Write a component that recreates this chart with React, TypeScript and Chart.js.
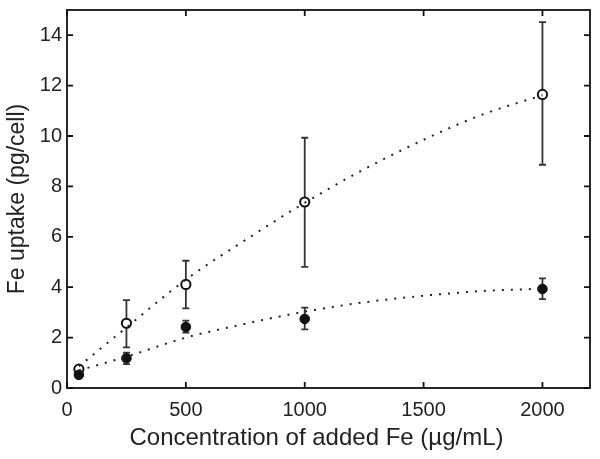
import React, { useEffect, useRef } from "react";
import { Chart, registerables } from "chart.js";

Chart.register(...registerables);

const concentrations = [50, 250, 500, 1000, 2000];
const openUptake = [0.75, 2.57, 4.11, 7.38, 11.65];
const openLow = [0.75, 1.61, 3.16, 4.81, 8.86];
const openHigh = [0.75, 3.49, 5.05, 9.93, 14.52];
const filledUptake = [0.52, 1.18, 2.42, 2.74, 3.93];
const filledLow = [0.52, 0.95, 2.2, 2.33, 3.53];
const filledHigh = [0.52, 1.4, 2.67, 3.19, 4.35];

const fitX = [50, 250, 500, 750, 1000, 1250, 1500, 1750, 2000];
const openFit = [0.86, 2.4, 4.3, 5.87, 7.35, 8.68, 9.85, 10.86, 11.62];
const filledFit = [0.7, 1.24, 2.0, 2.55, 3.03, 3.4, 3.66, 3.85, 3.94];

const xTicks = [0, 500, 1000, 1500, 2000];
const yTicks = [0, 2, 4, 6, 8, 10, 12, 14];

const xTitle = "Concentration of added Fe (µg/mL)";
const yTitle = "Fe uptake (pg/cell)";

const FONT = "'Liberation Sans', Arial, Helvetica, sans-serif";
const TEXT = "#222";

const errorBarPlugin = {
  id: "errorBars",
  beforeDatasetsDraw(chart: any) {
    const ctx = chart.ctx;
    const xs = chart.scales.x;
    const ys = chart.scales.y;
    const groups = [
      { vals: openUptake, lo: openLow, hi: openHigh },
      { vals: filledUptake, lo: filledLow, hi: filledHigh },
    ];
    ctx.save();
    ctx.strokeStyle = "#333";
    ctx.lineWidth = 1.8;
    for (const g of groups) {
      concentrations.forEach((c, i) => {
        if (g.hi[i] === g.lo[i]) return;
        const px = xs.getPixelForValue(c);
        const pLo = ys.getPixelForValue(g.lo[i]);
        const pHi = ys.getPixelForValue(g.hi[i]);
        ctx.beginPath();
        ctx.moveTo(px, pLo);
        ctx.lineTo(px, pHi);
        ctx.moveTo(px - 3.5, pLo);
        ctx.lineTo(px + 3.5, pLo);
        ctx.moveTo(px - 3.5, pHi);
        ctx.lineTo(px + 3.5, pHi);
        ctx.stroke();
      });
    }
    ctx.restore();
  },
};

const frameTicksPlugin = {
  id: "frameTicks",
  afterDraw(chart: any) {
    const ctx = chart.ctx;
    const { left, right, top, bottom } = chart.chartArea;
    const xs = chart.scales.x;
    const ys = chart.scales.y;
    const tl = 6;
    ctx.save();
    ctx.strokeStyle = "#111";
    ctx.lineWidth = 1.8;
    ctx.strokeRect(left, top, right - left, bottom - top);
    ctx.beginPath();
    xTicks.forEach((v) => {
      const px = xs.getPixelForValue(v);
      ctx.moveTo(px, bottom);
      ctx.lineTo(px, bottom - tl);
      ctx.moveTo(px, top);
      ctx.lineTo(px, top + tl);
    });
    yTicks.forEach((v) => {
      const py = ys.getPixelForValue(v);
      ctx.moveTo(left, py);
      ctx.lineTo(left + tl, py);
      ctx.moveTo(right, py);
      ctx.lineTo(right - tl, py);
    });
    ctx.stroke();
    // x axis title (slightly left of centre, as in the source figure)
    ctx.fillStyle = TEXT;
    ctx.font = `24px ${FONT}`;
    ctx.textAlign = "center";
    ctx.textBaseline = "alphabetic";
    ctx.fillText(xTitle, (left + right) / 2 - 12, bottom + 57);
    ctx.restore();
  },
};

export default function App() {
  const ref = useRef<HTMLCanvasElement | null>(null);

  useEffect(() => {
    if (!ref.current) return;
    const chart = new Chart(ref.current, {
      type: "scatter",
      data: {
        datasets: [
          {
            label: "fit open",
            data: fitX.map((x, i) => ({ x, y: openFit[i] })),
            showLine: true,
            borderColor: "#222",
            borderWidth: 2,
            borderDash: [2, 7],
            pointRadius: 0,
            cubicInterpolationMode: "monotone",
            fill: false,
          },
          {
            label: "fit filled",
            data: fitX.map((x, i) => ({ x, y: filledFit[i] })),
            showLine: true,
            borderColor: "#222",
            borderWidth: 2,
            borderDash: [2, 7],
            pointRadius: 0,
            cubicInterpolationMode: "monotone",
            fill: false,
          },
          {
            label: "filled",
            data: concentrations.map((x, i) => ({ x, y: filledUptake[i] })),
            pointRadius: 4.8,
            pointBackgroundColor: "#111",
            pointBorderColor: "#111",
            pointBorderWidth: 1,
          },
          {
            label: "open",
            data: concentrations.map((x, i) => ({ x, y: openUptake[i] })),
            pointRadius: 4.6,
            pointBackgroundColor: "#fff",
            pointBorderColor: "#111",
            pointBorderWidth: 2,
          },
        ],
      },
      options: {
        animation: false,
        responsive: false,
        maintainAspectRatio: false,
        layout: { padding: { top: 10, right: 10, left: 0, bottom: 0 } },
        plugins: {
          legend: { display: false },
          tooltip: { enabled: false },
        },
        scales: {
          x: {
            type: "linear",
            min: 0,
            max: 2200,
            afterFit: (s: any) => {
              s.height = 71;
              s.paddingLeft = 0;
              s.paddingRight = 0;
            },
            afterBuildTicks: (s: any) => {
              s.ticks = xTicks.map((v) => ({ value: v }));
            },
            grid: { display: false, drawTicks: false },
            border: { display: false },
            ticks: {
              padding: 10,
              color: TEXT,
              font: { family: FONT, size: 20 },
              maxRotation: 0,
              callback: (v: any) => String(v),
            },
            title: { display: false },
          },
          y: {
            type: "linear",
            min: 0,
            max: 15,
            afterFit: (s: any) => {
              s.width = 67;
              s.paddingTop = 0;
              s.paddingBottom = 0;
            },
            afterBuildTicks: (s: any) => {
              s.ticks = yTicks.map((v) => ({ value: v }));
            },
            grid: { display: false, drawTicks: false },
            border: { display: false },
            ticks: {
              padding: 5,
              color: TEXT,
              font: { family: FONT, size: 20 },
              callback: (v: any) => String(v),
            },
            title: {
              display: true,
              text: yTitle,
              color: TEXT,
              font: { family: FONT, size: 23 },
              padding: { top: 4, bottom: 0 },
            },
          },
        },
      },
      plugins: [errorBarPlugin, frameTicksPlugin],
    } as any);
    return () => chart.destroy();
  }, []);

  return (
    <div style={{ position: "fixed", left: 0, top: 0, width: 600, height: 459, background: "#fff" }}>
      <canvas ref={ref} width={600} height={459} style={{ width: 600, height: 459 }} />
    </div>
  );
}
